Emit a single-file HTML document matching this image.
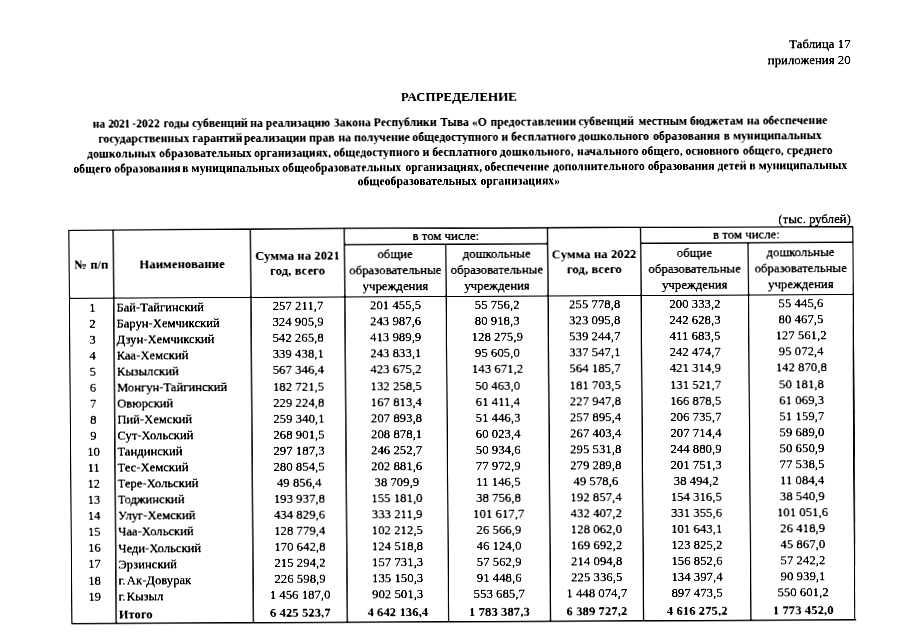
<!DOCTYPE html>
<html lang="ru"><head><meta charset="utf-8"><title>Таблица 17</title>
<style>
html,body{margin:0;padding:0;background:#fff;}
body{width:905px;height:640px;overflow:hidden;position:relative;}
#wr{position:absolute;left:0;top:0;width:905px;height:640px;overflow:hidden;background:#fff;filter:contrast(1.5);}
#pg{position:absolute;left:-20px;top:-20px;width:945px;height:680px;transform-origin:472.5px 340px;transform:matrix(1,-0.0048,0.0078,1,0,0);will-change:transform;background:#fff;filter:contrast(1.6);font-family:"Liberation Serif", serif;color:#000;}
#in{position:absolute;left:20px;top:20px;width:905px;height:640px;}
.t{position:absolute;white-space:nowrap;margin:0;-webkit-text-stroke:0.28px #000;}
svg{position:absolute;left:0;top:0;}
</style></head><body><div id="wr"><div id="pg"><div id="in">
<svg width="905" height="640" viewBox="0 0 905 640" stroke="#000" shape-rendering="geometricPrecision" stroke-linecap="butt">
<polyline fill="none" stroke-width="1.35" points="68.86,228.40 345,227.85 600,228.25 853.98,228.75"/>
<line x1="68.86" y1="621.89" x2="853.98" y2="621.89" stroke-width="1.25"/>
<line x1="69.58" y1="228.65" x2="69.58" y2="621.89" stroke-width="1.45"/>
<line x1="853.60" y1="228.65" x2="852.45" y2="621.89" stroke-width="1.45"/>
<line x1="69.58" y1="296.35" x2="853.25" y2="296.35" stroke-width="1.15"/>
<line x1="345.00" y1="244.13" x2="548.15" y2="244.13" stroke-width="1.15"/>
<line x1="641.20" y1="244.13" x2="853.25" y2="244.13" stroke-width="1.15"/>
<line x1="113.94" y1="228.65" x2="113.94" y2="621.89" stroke-width="1.25"/>
<line x1="251.05" y1="228.65" x2="251.05" y2="621.89" stroke-width="1.25"/>
<line x1="345.00" y1="228.65" x2="345.00" y2="621.89" stroke-width="1.25"/>
<line x1="548.15" y1="228.65" x2="548.15" y2="621.89" stroke-width="1.25"/>
<line x1="641.20" y1="228.65" x2="641.20" y2="621.89" stroke-width="1.25"/>
<line x1="446.25" y1="244.13" x2="446.25" y2="621.89" stroke-width="1.25"/>
<line x1="748.75" y1="244.13" x2="748.75" y2="621.89" stroke-width="1.25"/>
</svg>
<div class="t" style="top:38.94px;font-size:12.86px;line-height:15.43px;right:52.37px;">Таблица 17</div>
<div class="t" style="top:54.64px;font-size:12.86px;line-height:15.43px;right:52.37px;">приложения 20</div>
<div class="t" style="top:89.31px;font-size:13.0px;line-height:15.6px;font-weight:bold;-webkit-text-stroke-width:0.12px;left:-139.22px;width:1200px;text-align:center;">РАСПРЕДЕЛЕНИЕ</div>
<div class="t" style="top:114.63px;font-size:11.81px;line-height:14.17px;font-weight:bold;-webkit-text-stroke-width:0.12px;left:-138.15px;width:1200px;text-align:center;"><span style="position:relative;left:-1.3px;">на </span><span style="position:relative;left:-1.6px;letter-spacing:-0.5px;">2021</span><span style="position:relative;left:-1.6px;"> </span><span style="position:relative;left:-2.0px;">-2022 </span><span style="position:relative;left:-1.4px;">годы </span><span style="position:relative;left:-1.3px;">субвенций </span><span style="position:relative;left:-1.8px;">на реализацию </span><span style="position:relative;left:-1.5px;">Закона Республики </span><span style="position:relative;left:-0.9px;">Тыва «О </span><span style="position:relative;left:-0.5px;">предоставлении </span><span style="position:relative;left:-1.2px;">субвенций </span><span style="position:relative;left:0.3px;">местным бюджетам </span><span style="position:relative;left:0.8px;">на обеспечение</span></div>
<div class="t" style="top:129.57px;font-size:11.82px;line-height:14.18px;font-weight:bold;-webkit-text-stroke-width:0.12px;left:-138.35px;width:1200px;text-align:center;"><span style="position:relative;left:-0.1px;">государственных гарантий </span><span style="position:relative;left:-1.5px;">реализации прав </span><span style="position:relative;left:-0.9px;">на получение </span><span style="position:relative;left:-1.4px;">общедоступного и бесплатного </span><span style="position:relative;left:-2.2px;">дошкольного </span><span style="position:relative;left:-1.1px;">образования </span><span style="position:relative;left:-0.3px;">в муниципальных</span></div>
<div class="t" style="top:144.70px;font-size:11.84px;line-height:14.21px;font-weight:bold;-webkit-text-stroke-width:0.12px;left:-138.35px;width:1200px;text-align:center;"><span style="position:relative;left:-0.3px;">дошкольных образовательных </span><span style="position:relative;left:-0.9px;">организациях, </span><span style="position:relative;left:-1.4px;">общедоступного и бесплатного </span><span style="position:relative;left:-1.8px;">дошкольного, </span><span style="position:relative;left:-1.4px;">начального общего, основного </span><span style="position:relative;left:-0.9px;">общего, среднего</span></div>
<div class="t" style="top:159.50px;font-size:11.79px;line-height:14.15px;font-weight:bold;-webkit-text-stroke-width:0.12px;left:-138.05px;width:1200px;text-align:center;">общего образования <span style="position:relative;left:-1.6px;">в муниципальных </span><span style="position:relative;left:-2.4px;">общеобразовательных </span><span style="position:relative;left:-1.4px;">организациях, </span><span style="position:relative;left:-1.9px;">обеспечение </span><span style="position:relative;left:-1.1px;">дополнительного </span><span style="position:relative;left:-1.1px;">образования </span><span style="position:relative;left:-1.2px;">детей в муниципальных</span></div>
<div class="t" style="top:174.34px;font-size:11.8px;line-height:14.16px;font-weight:bold;-webkit-text-stroke-width:0.12px;left:-139.85px;width:1200px;text-align:center;"><span style="position:relative;left:-0.5px;">общеобразовательных </span>организациях»</div>
<div class="t" style="top:213.60px;font-size:12.8px;line-height:15.36px;right:53.30px;">(тыс. рублей)</div>
<div class="t" style="top:255.60px;font-size:12.8px;line-height:15.36px;font-weight:bold;-webkit-text-stroke-width:0.12px;left:-508.24px;width:1200px;text-align:center;">№ п/п</div>
<div class="t" style="top:255.60px;font-size:12.8px;line-height:15.36px;font-weight:bold;-webkit-text-stroke-width:0.12px;left:-417.50px;width:1200px;text-align:center;">Наименование</div>
<div class="t" style="top:247.60px;font-size:12.8px;line-height:15.36px;font-weight:bold;-webkit-text-stroke-width:0.12px;left:-301.98px;width:1200px;text-align:center;">Сумма на 2021</div>
<div class="t" style="top:263.00px;font-size:12.8px;line-height:15.36px;font-weight:bold;-webkit-text-stroke-width:0.12px;left:-301.98px;width:1200px;text-align:center;">год, всего</div>
<div class="t" style="top:247.60px;font-size:12.8px;line-height:15.36px;font-weight:bold;-webkit-text-stroke-width:0.12px;left:-5.33px;width:1200px;text-align:center;">Сумма на 2022</div>
<div class="t" style="top:263.00px;font-size:12.8px;line-height:15.36px;font-weight:bold;-webkit-text-stroke-width:0.12px;left:-5.33px;width:1200px;text-align:center;">год, всего</div>
<div class="t" style="top:228.90px;font-size:12.8px;line-height:15.36px;left:-153.43px;width:1200px;text-align:center;">в том числе:</div>
<div class="t" style="top:247.20px;font-size:12.8px;line-height:15.36px;left:-204.38px;width:1200px;text-align:center;">общие</div>
<div class="t" style="top:263.10px;font-size:12.8px;line-height:15.36px;left:-204.38px;width:1200px;text-align:center;">образовательные</div>
<div class="t" style="top:278.80px;font-size:12.8px;line-height:15.36px;left:-204.38px;width:1200px;text-align:center;">учреждения</div>
<div class="t" style="top:247.20px;font-size:12.8px;line-height:15.36px;left:-102.80px;width:1200px;text-align:center;">дошкольные</div>
<div class="t" style="top:263.10px;font-size:12.8px;line-height:15.36px;left:-102.80px;width:1200px;text-align:center;">образовательные</div>
<div class="t" style="top:278.80px;font-size:12.8px;line-height:15.36px;left:-102.80px;width:1200px;text-align:center;">учреждения</div>
<div class="t" style="top:228.90px;font-size:12.8px;line-height:15.36px;left:147.23px;width:1200px;text-align:center;">в том числе:</div>
<div class="t" style="top:247.20px;font-size:12.8px;line-height:15.36px;left:94.98px;width:1200px;text-align:center;">общие</div>
<div class="t" style="top:263.10px;font-size:12.8px;line-height:15.36px;left:94.98px;width:1200px;text-align:center;">образовательные</div>
<div class="t" style="top:278.80px;font-size:12.8px;line-height:15.36px;left:94.98px;width:1200px;text-align:center;">учреждения</div>
<div class="t" style="top:247.20px;font-size:12.8px;line-height:15.36px;left:201.00px;width:1200px;text-align:center;">дошкольные</div>
<div class="t" style="top:263.10px;font-size:12.8px;line-height:15.36px;left:201.00px;width:1200px;text-align:center;">образовательные</div>
<div class="t" style="top:278.80px;font-size:12.8px;line-height:15.36px;left:201.00px;width:1200px;text-align:center;">учреждения</div>
<div class="t" style="top:298.50px;font-size:12.8px;line-height:15.36px;left:-507.44px;width:1200px;text-align:center;">1</div>
<div class="t" style="top:298.64px;font-size:12.65px;line-height:15.18px;left:116.44px;">Бай-Тайгинский</div>
<div class="t" style="top:298.20px;font-size:12.8px;line-height:15.36px;left:-301.98px;width:1200px;text-align:center;">257 211,7</div>
<div class="t" style="top:298.20px;font-size:12.8px;line-height:15.36px;left:-204.38px;width:1200px;text-align:center;">201 455,5</div>
<div class="t" style="top:298.20px;font-size:12.8px;line-height:15.36px;left:-102.80px;width:1200px;text-align:center;">55 756,2</div>
<div class="t" style="top:298.20px;font-size:12.8px;line-height:15.36px;left:-5.33px;width:1200px;text-align:center;">255 778,8</div>
<div class="t" style="top:298.20px;font-size:12.8px;line-height:15.36px;left:94.98px;width:1200px;text-align:center;">200 333,2</div>
<div class="t" style="top:298.20px;font-size:12.8px;line-height:15.36px;left:201.00px;width:1200px;text-align:center;">55 445,6</div>
<div class="t" style="top:314.56px;font-size:12.8px;line-height:15.36px;left:-507.44px;width:1200px;text-align:center;">2</div>
<div class="t" style="top:314.70px;font-size:12.65px;line-height:15.18px;left:116.44px;">Барун-Хемчикский</div>
<div class="t" style="top:314.26px;font-size:12.8px;line-height:15.36px;left:-301.98px;width:1200px;text-align:center;">324 905,9</div>
<div class="t" style="top:314.26px;font-size:12.8px;line-height:15.36px;left:-204.38px;width:1200px;text-align:center;">243 987,6</div>
<div class="t" style="top:314.26px;font-size:12.8px;line-height:15.36px;left:-102.80px;width:1200px;text-align:center;">80 918,3</div>
<div class="t" style="top:314.26px;font-size:12.8px;line-height:15.36px;left:-5.33px;width:1200px;text-align:center;">323 095,8</div>
<div class="t" style="top:314.26px;font-size:12.8px;line-height:15.36px;left:94.98px;width:1200px;text-align:center;">242 628,3</div>
<div class="t" style="top:314.26px;font-size:12.8px;line-height:15.36px;left:201.00px;width:1200px;text-align:center;">80 467,5</div>
<div class="t" style="top:330.62px;font-size:12.8px;line-height:15.36px;left:-507.44px;width:1200px;text-align:center;">3</div>
<div class="t" style="top:330.76px;font-size:12.65px;line-height:15.18px;left:116.44px;">Дзун-Хемчикский</div>
<div class="t" style="top:330.32px;font-size:12.8px;line-height:15.36px;left:-301.98px;width:1200px;text-align:center;">542 265,8</div>
<div class="t" style="top:330.32px;font-size:12.8px;line-height:15.36px;left:-204.38px;width:1200px;text-align:center;">413 989,9</div>
<div class="t" style="top:330.32px;font-size:12.8px;line-height:15.36px;left:-102.80px;width:1200px;text-align:center;">128 275,9</div>
<div class="t" style="top:330.32px;font-size:12.8px;line-height:15.36px;left:-5.33px;width:1200px;text-align:center;">539 244,7</div>
<div class="t" style="top:330.32px;font-size:12.8px;line-height:15.36px;left:94.98px;width:1200px;text-align:center;">411 683,5</div>
<div class="t" style="top:330.32px;font-size:12.8px;line-height:15.36px;left:201.00px;width:1200px;text-align:center;">127 561,2</div>
<div class="t" style="top:346.68px;font-size:12.8px;line-height:15.36px;left:-507.44px;width:1200px;text-align:center;">4</div>
<div class="t" style="top:346.82px;font-size:12.65px;line-height:15.18px;left:116.44px;">Каа-Хемский</div>
<div class="t" style="top:346.38px;font-size:12.8px;line-height:15.36px;left:-301.98px;width:1200px;text-align:center;">339 438,1</div>
<div class="t" style="top:346.38px;font-size:12.8px;line-height:15.36px;left:-204.38px;width:1200px;text-align:center;">243 833,1</div>
<div class="t" style="top:346.38px;font-size:12.8px;line-height:15.36px;left:-102.80px;width:1200px;text-align:center;">95 605,0</div>
<div class="t" style="top:346.38px;font-size:12.8px;line-height:15.36px;left:-5.33px;width:1200px;text-align:center;">337 547,1</div>
<div class="t" style="top:346.38px;font-size:12.8px;line-height:15.36px;left:94.98px;width:1200px;text-align:center;">242 474,7</div>
<div class="t" style="top:346.38px;font-size:12.8px;line-height:15.36px;left:201.00px;width:1200px;text-align:center;">95 072,4</div>
<div class="t" style="top:362.74px;font-size:12.8px;line-height:15.36px;left:-507.44px;width:1200px;text-align:center;">5</div>
<div class="t" style="top:362.88px;font-size:12.65px;line-height:15.18px;left:116.44px;">Кызылский</div>
<div class="t" style="top:362.44px;font-size:12.8px;line-height:15.36px;left:-301.98px;width:1200px;text-align:center;">567 346,4</div>
<div class="t" style="top:362.44px;font-size:12.8px;line-height:15.36px;left:-204.38px;width:1200px;text-align:center;">423 675,2</div>
<div class="t" style="top:362.44px;font-size:12.8px;line-height:15.36px;left:-102.80px;width:1200px;text-align:center;">143 671,2</div>
<div class="t" style="top:362.44px;font-size:12.8px;line-height:15.36px;left:-5.33px;width:1200px;text-align:center;">564 185,7</div>
<div class="t" style="top:362.44px;font-size:12.8px;line-height:15.36px;left:94.98px;width:1200px;text-align:center;">421 314,9</div>
<div class="t" style="top:362.44px;font-size:12.8px;line-height:15.36px;left:201.00px;width:1200px;text-align:center;">142 870,8</div>
<div class="t" style="top:378.80px;font-size:12.8px;line-height:15.36px;left:-507.44px;width:1200px;text-align:center;">6</div>
<div class="t" style="top:378.94px;font-size:12.65px;line-height:15.18px;left:116.44px;">Монгун-Тайгинский</div>
<div class="t" style="top:378.50px;font-size:12.8px;line-height:15.36px;left:-301.98px;width:1200px;text-align:center;">182 721,5</div>
<div class="t" style="top:378.50px;font-size:12.8px;line-height:15.36px;left:-204.38px;width:1200px;text-align:center;">132 258,5</div>
<div class="t" style="top:378.50px;font-size:12.8px;line-height:15.36px;left:-102.80px;width:1200px;text-align:center;">50 463,0</div>
<div class="t" style="top:378.50px;font-size:12.8px;line-height:15.36px;left:-5.33px;width:1200px;text-align:center;">181 703,5</div>
<div class="t" style="top:378.50px;font-size:12.8px;line-height:15.36px;left:94.98px;width:1200px;text-align:center;">131 521,7</div>
<div class="t" style="top:378.50px;font-size:12.8px;line-height:15.36px;left:201.00px;width:1200px;text-align:center;">50 181,8</div>
<div class="t" style="top:394.86px;font-size:12.8px;line-height:15.36px;left:-507.44px;width:1200px;text-align:center;">7</div>
<div class="t" style="top:395.00px;font-size:12.65px;line-height:15.18px;left:116.44px;">Овюрский</div>
<div class="t" style="top:394.56px;font-size:12.8px;line-height:15.36px;left:-301.98px;width:1200px;text-align:center;">229 224,8</div>
<div class="t" style="top:394.56px;font-size:12.8px;line-height:15.36px;left:-204.38px;width:1200px;text-align:center;">167 813,4</div>
<div class="t" style="top:394.56px;font-size:12.8px;line-height:15.36px;left:-102.80px;width:1200px;text-align:center;">61 411,4</div>
<div class="t" style="top:394.56px;font-size:12.8px;line-height:15.36px;left:-5.33px;width:1200px;text-align:center;">227 947,8</div>
<div class="t" style="top:394.56px;font-size:12.8px;line-height:15.36px;left:94.98px;width:1200px;text-align:center;">166 878,5</div>
<div class="t" style="top:394.56px;font-size:12.8px;line-height:15.36px;left:201.00px;width:1200px;text-align:center;">61 069,3</div>
<div class="t" style="top:410.92px;font-size:12.8px;line-height:15.36px;left:-507.44px;width:1200px;text-align:center;">8</div>
<div class="t" style="top:411.06px;font-size:12.65px;line-height:15.18px;left:116.44px;">Пий-Хемский</div>
<div class="t" style="top:410.62px;font-size:12.8px;line-height:15.36px;left:-301.98px;width:1200px;text-align:center;">259 340,1</div>
<div class="t" style="top:410.62px;font-size:12.8px;line-height:15.36px;left:-204.38px;width:1200px;text-align:center;">207 893,8</div>
<div class="t" style="top:410.62px;font-size:12.8px;line-height:15.36px;left:-102.80px;width:1200px;text-align:center;">51 446,3</div>
<div class="t" style="top:410.62px;font-size:12.8px;line-height:15.36px;left:-5.33px;width:1200px;text-align:center;">257 895,4</div>
<div class="t" style="top:410.62px;font-size:12.8px;line-height:15.36px;left:94.98px;width:1200px;text-align:center;">206 735,7</div>
<div class="t" style="top:410.62px;font-size:12.8px;line-height:15.36px;left:201.00px;width:1200px;text-align:center;">51 159,7</div>
<div class="t" style="top:426.98px;font-size:12.8px;line-height:15.36px;left:-507.44px;width:1200px;text-align:center;">9</div>
<div class="t" style="top:427.12px;font-size:12.65px;line-height:15.18px;left:116.44px;">Сут-Хольский</div>
<div class="t" style="top:426.68px;font-size:12.8px;line-height:15.36px;left:-301.98px;width:1200px;text-align:center;">268 901,5</div>
<div class="t" style="top:426.68px;font-size:12.8px;line-height:15.36px;left:-204.38px;width:1200px;text-align:center;">208 878,1</div>
<div class="t" style="top:426.68px;font-size:12.8px;line-height:15.36px;left:-102.80px;width:1200px;text-align:center;">60 023,4</div>
<div class="t" style="top:426.68px;font-size:12.8px;line-height:15.36px;left:-5.33px;width:1200px;text-align:center;">267 403,4</div>
<div class="t" style="top:426.68px;font-size:12.8px;line-height:15.36px;left:94.98px;width:1200px;text-align:center;">207 714,4</div>
<div class="t" style="top:426.68px;font-size:12.8px;line-height:15.36px;left:201.00px;width:1200px;text-align:center;">59 689,0</div>
<div class="t" style="top:443.04px;font-size:12.8px;line-height:15.36px;left:-507.44px;width:1200px;text-align:center;">10</div>
<div class="t" style="top:443.18px;font-size:12.65px;line-height:15.18px;left:116.44px;">Тандинский</div>
<div class="t" style="top:442.74px;font-size:12.8px;line-height:15.36px;left:-301.98px;width:1200px;text-align:center;">297 187,3</div>
<div class="t" style="top:442.74px;font-size:12.8px;line-height:15.36px;left:-204.38px;width:1200px;text-align:center;">246 252,7</div>
<div class="t" style="top:442.74px;font-size:12.8px;line-height:15.36px;left:-102.80px;width:1200px;text-align:center;">50 934,6</div>
<div class="t" style="top:442.74px;font-size:12.8px;line-height:15.36px;left:-5.33px;width:1200px;text-align:center;">295 531,8</div>
<div class="t" style="top:442.74px;font-size:12.8px;line-height:15.36px;left:94.98px;width:1200px;text-align:center;">244 880,9</div>
<div class="t" style="top:442.74px;font-size:12.8px;line-height:15.36px;left:201.00px;width:1200px;text-align:center;">50 650,9</div>
<div class="t" style="top:459.10px;font-size:12.8px;line-height:15.36px;left:-507.44px;width:1200px;text-align:center;">11</div>
<div class="t" style="top:459.24px;font-size:12.65px;line-height:15.18px;left:116.44px;">Тес-Хемский</div>
<div class="t" style="top:458.80px;font-size:12.8px;line-height:15.36px;left:-301.98px;width:1200px;text-align:center;">280 854,5</div>
<div class="t" style="top:458.80px;font-size:12.8px;line-height:15.36px;left:-204.38px;width:1200px;text-align:center;">202 881,6</div>
<div class="t" style="top:458.80px;font-size:12.8px;line-height:15.36px;left:-102.80px;width:1200px;text-align:center;">77 972,9</div>
<div class="t" style="top:458.80px;font-size:12.8px;line-height:15.36px;left:-5.33px;width:1200px;text-align:center;">279 289,8</div>
<div class="t" style="top:458.80px;font-size:12.8px;line-height:15.36px;left:94.98px;width:1200px;text-align:center;">201 751,3</div>
<div class="t" style="top:458.80px;font-size:12.8px;line-height:15.36px;left:201.00px;width:1200px;text-align:center;">77 538,5</div>
<div class="t" style="top:475.16px;font-size:12.8px;line-height:15.36px;left:-507.44px;width:1200px;text-align:center;">12</div>
<div class="t" style="top:475.30px;font-size:12.65px;line-height:15.18px;left:116.44px;">Тере-Хольский</div>
<div class="t" style="top:474.86px;font-size:12.8px;line-height:15.36px;left:-301.98px;width:1200px;text-align:center;">49 856,4</div>
<div class="t" style="top:474.86px;font-size:12.8px;line-height:15.36px;left:-204.38px;width:1200px;text-align:center;">38 709,9</div>
<div class="t" style="top:474.86px;font-size:12.8px;line-height:15.36px;left:-102.80px;width:1200px;text-align:center;">11 146,5</div>
<div class="t" style="top:474.86px;font-size:12.8px;line-height:15.36px;left:-5.33px;width:1200px;text-align:center;">49 578,6</div>
<div class="t" style="top:474.86px;font-size:12.8px;line-height:15.36px;left:94.98px;width:1200px;text-align:center;">38 494,2</div>
<div class="t" style="top:474.86px;font-size:12.8px;line-height:15.36px;left:201.00px;width:1200px;text-align:center;">11 084,4</div>
<div class="t" style="top:491.22px;font-size:12.8px;line-height:15.36px;left:-507.44px;width:1200px;text-align:center;">13</div>
<div class="t" style="top:491.36px;font-size:12.65px;line-height:15.18px;left:116.44px;">Тоджинский</div>
<div class="t" style="top:490.92px;font-size:12.8px;line-height:15.36px;left:-301.98px;width:1200px;text-align:center;">193 937,8</div>
<div class="t" style="top:490.92px;font-size:12.8px;line-height:15.36px;left:-204.38px;width:1200px;text-align:center;">155 181,0</div>
<div class="t" style="top:490.92px;font-size:12.8px;line-height:15.36px;left:-102.80px;width:1200px;text-align:center;">38 756,8</div>
<div class="t" style="top:490.92px;font-size:12.8px;line-height:15.36px;left:-5.33px;width:1200px;text-align:center;">192 857,4</div>
<div class="t" style="top:490.92px;font-size:12.8px;line-height:15.36px;left:94.98px;width:1200px;text-align:center;">154 316,5</div>
<div class="t" style="top:490.92px;font-size:12.8px;line-height:15.36px;left:201.00px;width:1200px;text-align:center;">38 540,9</div>
<div class="t" style="top:507.28px;font-size:12.8px;line-height:15.36px;left:-507.44px;width:1200px;text-align:center;">14</div>
<div class="t" style="top:507.42px;font-size:12.65px;line-height:15.18px;left:116.44px;">Улуг-Хемский</div>
<div class="t" style="top:506.98px;font-size:12.8px;line-height:15.36px;left:-301.98px;width:1200px;text-align:center;">434 829,6</div>
<div class="t" style="top:506.98px;font-size:12.8px;line-height:15.36px;left:-204.38px;width:1200px;text-align:center;">333 211,9</div>
<div class="t" style="top:506.98px;font-size:12.8px;line-height:15.36px;left:-102.80px;width:1200px;text-align:center;">101 617,7</div>
<div class="t" style="top:506.98px;font-size:12.8px;line-height:15.36px;left:-5.33px;width:1200px;text-align:center;">432 407,2</div>
<div class="t" style="top:506.98px;font-size:12.8px;line-height:15.36px;left:94.98px;width:1200px;text-align:center;">331 355,6</div>
<div class="t" style="top:506.98px;font-size:12.8px;line-height:15.36px;left:201.00px;width:1200px;text-align:center;">101 051,6</div>
<div class="t" style="top:523.34px;font-size:12.8px;line-height:15.36px;left:-507.44px;width:1200px;text-align:center;">15</div>
<div class="t" style="top:523.48px;font-size:12.65px;line-height:15.18px;left:116.44px;">Чаа-Хольский</div>
<div class="t" style="top:523.04px;font-size:12.8px;line-height:15.36px;left:-301.98px;width:1200px;text-align:center;">128 779,4</div>
<div class="t" style="top:523.04px;font-size:12.8px;line-height:15.36px;left:-204.38px;width:1200px;text-align:center;">102 212,5</div>
<div class="t" style="top:523.04px;font-size:12.8px;line-height:15.36px;left:-102.80px;width:1200px;text-align:center;">26 566,9</div>
<div class="t" style="top:523.04px;font-size:12.8px;line-height:15.36px;left:-5.33px;width:1200px;text-align:center;">128 062,0</div>
<div class="t" style="top:523.04px;font-size:12.8px;line-height:15.36px;left:94.98px;width:1200px;text-align:center;">101 643,1</div>
<div class="t" style="top:523.04px;font-size:12.8px;line-height:15.36px;left:201.00px;width:1200px;text-align:center;">26 418,9</div>
<div class="t" style="top:539.40px;font-size:12.8px;line-height:15.36px;left:-507.44px;width:1200px;text-align:center;">16</div>
<div class="t" style="top:539.54px;font-size:12.65px;line-height:15.18px;left:116.44px;">Чеди-Хольский</div>
<div class="t" style="top:539.10px;font-size:12.8px;line-height:15.36px;left:-301.98px;width:1200px;text-align:center;">170 642,8</div>
<div class="t" style="top:539.10px;font-size:12.8px;line-height:15.36px;left:-204.38px;width:1200px;text-align:center;">124 518,8</div>
<div class="t" style="top:539.10px;font-size:12.8px;line-height:15.36px;left:-102.80px;width:1200px;text-align:center;">46 124,0</div>
<div class="t" style="top:539.10px;font-size:12.8px;line-height:15.36px;left:-5.33px;width:1200px;text-align:center;">169 692,2</div>
<div class="t" style="top:539.10px;font-size:12.8px;line-height:15.36px;left:94.98px;width:1200px;text-align:center;">123 825,2</div>
<div class="t" style="top:539.10px;font-size:12.8px;line-height:15.36px;left:201.00px;width:1200px;text-align:center;">45 867,0</div>
<div class="t" style="top:555.46px;font-size:12.8px;line-height:15.36px;left:-507.44px;width:1200px;text-align:center;">17</div>
<div class="t" style="top:555.60px;font-size:12.65px;line-height:15.18px;left:116.44px;">Эрзинский</div>
<div class="t" style="top:555.16px;font-size:12.8px;line-height:15.36px;left:-301.98px;width:1200px;text-align:center;">215 294,2</div>
<div class="t" style="top:555.16px;font-size:12.8px;line-height:15.36px;left:-204.38px;width:1200px;text-align:center;">157 731,3</div>
<div class="t" style="top:555.16px;font-size:12.8px;line-height:15.36px;left:-102.80px;width:1200px;text-align:center;">57 562,9</div>
<div class="t" style="top:555.16px;font-size:12.8px;line-height:15.36px;left:-5.33px;width:1200px;text-align:center;">214 094,8</div>
<div class="t" style="top:555.16px;font-size:12.8px;line-height:15.36px;left:94.98px;width:1200px;text-align:center;">156 852,6</div>
<div class="t" style="top:555.16px;font-size:12.8px;line-height:15.36px;left:201.00px;width:1200px;text-align:center;">57 242,2</div>
<div class="t" style="top:571.52px;font-size:12.8px;line-height:15.36px;left:-507.44px;width:1200px;text-align:center;">18</div>
<div class="t" style="top:571.66px;font-size:12.65px;line-height:15.18px;left:116.44px;">г.<span style="margin-left:1.5px">Ак-Довурак</span></div>
<div class="t" style="top:571.22px;font-size:12.8px;line-height:15.36px;left:-301.98px;width:1200px;text-align:center;">226 598,9</div>
<div class="t" style="top:571.22px;font-size:12.8px;line-height:15.36px;left:-204.38px;width:1200px;text-align:center;">135 150,3</div>
<div class="t" style="top:571.22px;font-size:12.8px;line-height:15.36px;left:-102.80px;width:1200px;text-align:center;">91 448,6</div>
<div class="t" style="top:571.22px;font-size:12.8px;line-height:15.36px;left:-5.33px;width:1200px;text-align:center;">225 336,5</div>
<div class="t" style="top:571.22px;font-size:12.8px;line-height:15.36px;left:94.98px;width:1200px;text-align:center;">134 397,4</div>
<div class="t" style="top:571.22px;font-size:12.8px;line-height:15.36px;left:201.00px;width:1200px;text-align:center;">90 939,1</div>
<div class="t" style="top:587.58px;font-size:12.8px;line-height:15.36px;left:-507.44px;width:1200px;text-align:center;">19</div>
<div class="t" style="top:587.72px;font-size:12.65px;line-height:15.18px;left:116.44px;">г.<span style="margin-left:1.2px">Кызыл</span></div>
<div class="t" style="top:587.28px;font-size:12.8px;line-height:15.36px;left:-301.98px;width:1200px;text-align:center;">1 456 187,0</div>
<div class="t" style="top:587.28px;font-size:12.8px;line-height:15.36px;left:-204.38px;width:1200px;text-align:center;">902 501,3</div>
<div class="t" style="top:587.28px;font-size:12.8px;line-height:15.36px;left:-102.80px;width:1200px;text-align:center;">553 685,7</div>
<div class="t" style="top:587.28px;font-size:12.8px;line-height:15.36px;left:-5.33px;width:1200px;text-align:center;">1 448 074,7</div>
<div class="t" style="top:587.28px;font-size:12.8px;line-height:15.36px;left:94.98px;width:1200px;text-align:center;">897 473,5</div>
<div class="t" style="top:587.28px;font-size:12.8px;line-height:15.36px;left:201.00px;width:1200px;text-align:center;">550 601,2</div>
<div class="t" style="top:605.74px;font-size:12.65px;line-height:15.18px;font-weight:bold;-webkit-text-stroke-width:0.12px;left:116.44px;">Итого</div>
<div class="t" style="top:605.30px;font-size:12.8px;line-height:15.36px;font-weight:bold;-webkit-text-stroke-width:0.12px;left:-301.98px;width:1200px;text-align:center;">6 425 523,7</div>
<div class="t" style="top:605.30px;font-size:12.8px;line-height:15.36px;font-weight:bold;-webkit-text-stroke-width:0.12px;left:-204.38px;width:1200px;text-align:center;">4 642 136,4</div>
<div class="t" style="top:605.30px;font-size:12.8px;line-height:15.36px;font-weight:bold;-webkit-text-stroke-width:0.12px;left:-102.80px;width:1200px;text-align:center;">1 783 387,3</div>
<div class="t" style="top:605.30px;font-size:12.8px;line-height:15.36px;font-weight:bold;-webkit-text-stroke-width:0.12px;left:-5.33px;width:1200px;text-align:center;">6 389 727,2</div>
<div class="t" style="top:605.30px;font-size:12.8px;line-height:15.36px;font-weight:bold;-webkit-text-stroke-width:0.12px;left:94.98px;width:1200px;text-align:center;">4 616 275,2</div>
<div class="t" style="top:605.30px;font-size:12.8px;line-height:15.36px;font-weight:bold;-webkit-text-stroke-width:0.12px;left:201.00px;width:1200px;text-align:center;">1 773 452,0</div>
</div></div></div></body></html>
